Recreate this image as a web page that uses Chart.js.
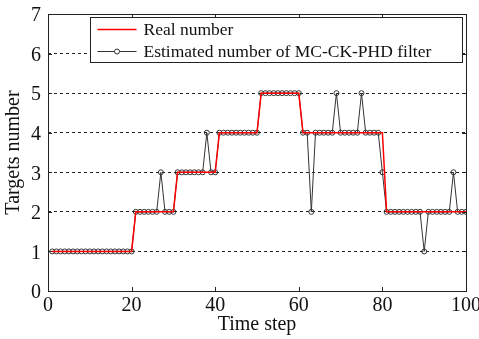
<!DOCTYPE html>
<html>
<head>
<meta charset="utf-8">
<script src="https://cdn.jsdelivr.net/npm/chart.js@4.4.1/dist/chart.umd.min.js"></script>
<style>
html,body{margin:0;padding:0;background:#fff;overflow:hidden;}
#wrap{width:479px;height:339px;position:relative;overflow:hidden;}
</style>
</head>
<body>
<div id="wrap"><canvas id="c" width="479" height="339"></canvas></div>
<script>
const timeSteps = [1,2,3,4,5,6,7,8,9,10,11,12,13,14,15,16,17,18,19,20,
  21,22,23,24,25,26,27,28,29,30,31,32,33,34,35,36,37,38,39,40,
  41,42,43,44,45,46,47,48,49,50,51,52,53,54,55,56,57,58,59,60,
  61,62,63,64,65,66,67,68,69,70,71,72,73,74,75,76,77,78,79,80,
  81,82,83,84,85,86,87,88,89,90,91,92,93,94,95,96,97,98,99,100];
const realNumber = [1,1,1,1,1,1,1,1,1,1,1,1,1,1,1,1,1,1,1,1,
  2,2,2,2,2,2,2,2,2,2,3,3,3,3,3,3,3,3,3,3,
  4,4,4,4,4,4,4,4,4,4,5,5,5,5,5,5,5,5,5,5,
  4,4,4,4,4,4,4,4,4,4,4,4,4,4,4,4,4,4,4,4,
  2,2,2,2,2,2,2,2,2,2,2,2,2,2,2,2,2,2,2,2];
const estimatedNumber = [1,1,1,1,1,1,1,1,1,1,1,1,1,1,1,1,1,1,1,1,
  2,2,2,2,2,2,3,2,2,2,3,3,3,3,3,3,3,4,3,3,
  4,4,4,4,4,4,4,4,4,4,5,5,5,5,5,5,5,5,5,5,
  4,4,2,4,4,4,4,4,5,4,4,4,4,4,5,4,4,4,4,3,
  2,2,2,2,2,2,2,2,2,1,2,2,2,2,2,2,3,2,2,2];
const xTicks = [0,20,40,60,80,100];
const yTicks = [0,1,2,3,4,5,6,7];
const seriesLabels = ['Real number','Estimated number of MC-CK-PHD filter'];

const FONT = "'Liberation Serif','Times New Roman',serif";

const boxPlugin = {
  id:'boxPlugin',
  afterDatasetsDraw(chart){
    const ctx = chart.ctx, a = chart.chartArea;
    const xs = chart.scales.x, ys = chart.scales.y;
    ctx.save();
    ctx.strokeStyle = '#222';
    ctx.lineWidth = 1;
    ctx.strokeRect(Math.round(a.left)+0.5, Math.round(a.top)+0.5, Math.round(a.right-a.left), Math.round(a.bottom-a.top));
    ctx.beginPath();
    const tl = 4;
    xTicks.forEach(v=>{
      const px = Math.round(xs.getPixelForValue(v))+0.5;
      ctx.moveTo(px, a.bottom); ctx.lineTo(px, a.bottom-tl);
      ctx.moveTo(px, a.top); ctx.lineTo(px, a.top+tl);
    });
    yTicks.forEach(v=>{
      const py = Math.round(ys.getPixelForValue(v))+0.5;
      ctx.moveTo(a.left, py); ctx.lineTo(a.left+tl, py);
      ctx.moveTo(a.right, py); ctx.lineTo(a.right-tl, py);
    });
    ctx.stroke();

    // legend
    const lx = Math.round(a.left+42)+0.5, ly = Math.round(a.top+3)+0.5;
    const lw = Math.round(a.right-4-a.left-42), lh = 45;
    ctx.fillStyle = '#fff';
    ctx.fillRect(lx, ly, lw, lh);
    ctx.strokeStyle = '#222';
    ctx.strokeRect(lx, ly, lw, lh);
    const ds = chart.data.datasets;
    const rows = [ly+11, ly+33];
    ds.forEach((d,i)=>{
      const y = Math.round(rows[i])+0.5;
      ctx.strokeStyle = d.borderColor;
      ctx.lineWidth = d.borderWidth;
      ctx.beginPath(); ctx.moveTo(lx+7, y); ctx.lineTo(lx+46, y); ctx.stroke();
      if (d.pointRadius>0){
        ctx.lineWidth = 1;
        ctx.strokeStyle = d.pointBorderColor;
        ctx.fillStyle='#fff';
        ctx.beginPath(); ctx.arc(lx+26.5, y, 2.5, 0, Math.PI*2); ctx.fill(); ctx.stroke();
      }
      ctx.fillStyle = '#111';
      ctx.font = "17.5px "+FONT;
      ctx.textBaseline = 'middle';
      ctx.textAlign = 'left';
      ctx.fillText(d.label, lx+53, y+1);
    });
    ctx.restore();
  }
};

new Chart(document.getElementById('c'), {
  type:'line',
  data:{
    datasets:[
      {label:seriesLabels[0], data: timeSteps.map((t,i)=>({x:t,y:realNumber[i]})),
       borderColor:'#ff0000', borderWidth:1.5, pointRadius:0, tension:0, order:0},
      {label:seriesLabels[1], data: timeSteps.map((t,i)=>({x:t,y:estimatedNumber[i]})),
       borderColor:'#333', borderWidth:1, pointRadius:2.5, pointBorderColor:'#333', pointBorderWidth:1,
       pointBackgroundColor:'rgba(255,255,255,0)', pointStyle:'circle', tension:0, order:1}
    ]
  },
  options:{
    responsive:false,
    animation:false,
    layout:{padding:{top:14,right:13,left:0,bottom:0}},
    plugins:{legend:{display:false}, tooltip:{enabled:false}},
    scales:{
      x:{type:'linear', min:0, max:100,
        afterBuildTicks(s){ s.ticks = xTicks.map(v=>({value:v})); },
        afterFit(s){ s.height = 48; s.paddingLeft = 0; s.paddingRight = 0; },
        grid:{display:false, drawTicks:false},
        border:{display:false},
        ticks:{font:{family:FONT,size:20}, color:'#111', padding:3, maxRotation:0, autoSkip:false},
        title:{display:true, text:'Time step', font:{family:FONT,size:20}, color:'#111', padding:{top:0,bottom:2}}
      },
      y:{type:'linear', min:0, max:7,
        afterBuildTicks(s){ s.ticks = yTicks.map(v=>({value:v})); },
        afterFit(s){ s.width = 48; s.paddingTop = 0; s.paddingBottom = 0; },
        grid:{drawTicks:false, color:(c)=> (c.tick && (c.tick.value===0||c.tick.value===7)) ? 'rgba(0,0,0,0)' : '#222', lineWidth:1},
        border:{display:false, dash:[3,3]},
        ticks:{font:{family:FONT,size:20}, color:'#111', padding:7, labelOffset:2},
        title:{display:true, text:'Targets number', font:{family:FONT,size:20}, color:'#111', padding:{top:2,bottom:0}}
      }
    }
  },
  plugins:[boxPlugin]
});
</script>
</body>
</html>
